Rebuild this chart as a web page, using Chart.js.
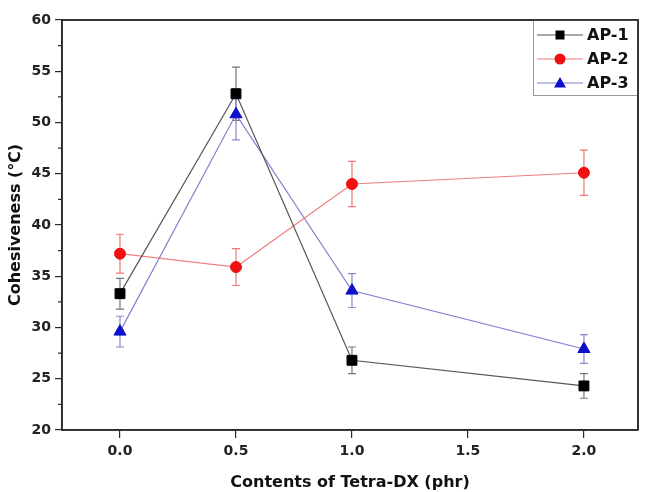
<!DOCTYPE html>
<html>
<head>
<meta charset="utf-8">
<script src="https://cdn.jsdelivr.net/npm/chart.js@4/dist/chart.umd.min.js"></script>
<style>
html,body{margin:0;padding:0;background:#fff;}
#wrap{width:649px;height:492px;position:relative;}
</style>
</head>
<body>
<div id="wrap"><canvas id="c"></canvas></div>
<script>
// ---- data ----
const xValues = [0, 0.5, 1.0, 2.0];
const seriesNames = ['AP-1', 'AP-2', 'AP-3'];
const ap1 = [33.3, 52.8, 26.8, 24.3];
const ap1Err = [1.5, 2.6, 1.3, 1.2];
const ap2 = [37.2, 35.9, 44.0, 45.1];
const ap2Err = [1.9, 1.8, 2.2, 2.2];
const ap3 = [29.6, 50.8, 33.6, 27.9];
const ap3Err = [1.5, 2.5, 1.65, 1.4];
const xTicks = [0, 0.5, 1.0, 1.5, 2.0];
const yTicks = [20, 25, 30, 35, 40, 45, 50, 55, 60];
const xTitle = 'Contents of Tetra-DX (phr)';
const yTitle = 'Cohesiveness (\u2103)';

const FONT = "'DejaVu Sans', 'Liberation Sans', Arial, sans-serif";
const AXIS = '#2a2a2a';

function pts(vals){ return xValues.map((x,i)=>({x:x,y:vals[i]})); }

const styles = [
  {line:'#555555', fill:'#000000', bar:'#777777', shape:'rect', r:7},
  {line:'#ee8080', fill:'#ee1111', bar:'#ee7777', shape:'circle', r:5.5},
  {line:'#8080d0', fill:'#1010cc', bar:'#8888cc', shape:'triangle', r:7}
];
const errs = [ap1Err, ap2Err, ap3Err];
const vals = [ap1, ap2, ap3];

const datasets = vals.map((v,k)=>({
  label: seriesNames[k],
  data: pts(v),
  borderColor: styles[k].line,
  borderWidth: 1.2,
  backgroundColor: styles[k].fill,
  pointBackgroundColor: styles[k].fill,
  pointBorderColor: styles[k].fill,
  pointBorderWidth: 1,
  pointStyle: styles[k].shape,
  pointRadius: styles[k].r,
  tension: 0,
  errors: errs[k],
  barColor: styles[k].bar
}));

const errorBars = {
  id:'errorBars',
  beforeDatasetsDraw(chart){
    const ctx = chart.ctx, ys = chart.scales.y;
    chart.data.datasets.forEach((ds,k)=>{
      const meta = chart.getDatasetMeta(k);
      ctx.save();
      ctx.strokeStyle = ds.barColor;
      ctx.lineWidth = 1.2;
      meta.data.forEach((p,i)=>{
        const v = ds.data[i].y, e = ds.errors[i];
        const t = ys.getPixelForValue(v+e), b = ys.getPixelForValue(v-e);
        ctx.beginPath();
        ctx.moveTo(p.x, t); ctx.lineTo(p.x, b);
        ctx.moveTo(p.x-4, t); ctx.lineTo(p.x+4, t);
        ctx.moveTo(p.x-4, b); ctx.lineTo(p.x+4, b);
        ctx.stroke();
      });
      ctx.restore();
    });
  }
};

const frame = {
  id:'frame',
  afterDraw(chart){
    const ctx = chart.ctx, a = chart.chartArea, ys = chart.scales.y;
    ctx.save();
    ctx.strokeStyle = AXIS;
    ctx.lineWidth = 1.6;
    ctx.strokeRect(a.left, a.top, a.right-a.left, a.bottom-a.top);
    // minor ticks on y
    ctx.lineWidth = 1.2;
    for(let i=0;i<yTicks.length-1;i++){
      const yp = ys.getPixelForValue((yTicks[i]+yTicks[i+1])/2);
      ctx.beginPath(); ctx.moveTo(a.left-4, yp); ctx.lineTo(a.left, yp); ctx.stroke();
    }
    // legend
    const lx = 533, ly = a.top, lw = a.right - 533, lh = 76;
    ctx.fillStyle = '#fff';
    ctx.fillRect(lx, ly, lw, lh);
    ctx.strokeStyle = '#999';
    ctx.lineWidth = 1;
    ctx.strokeRect(lx+0.5, ly+0.5, lw-1, lh-1);
    ctx.strokeStyle = AXIS; ctx.lineWidth = 1.6;
    ctx.beginPath(); ctx.moveTo(a.left, a.top); ctx.lineTo(a.right, a.top); ctx.lineTo(a.right, a.bottom); ctx.stroke();
    chart.data.datasets.forEach((ds,k)=>{
      const yy = ly + 15 + k*24;
      ctx.strokeStyle = ds.borderColor; ctx.lineWidth = 1.2;
      ctx.beginPath(); ctx.moveTo(lx+4, yy); ctx.lineTo(lx+50, yy); ctx.stroke();
      const cx = lx+27;
      ctx.fillStyle = ds.pointBackgroundColor;
      ctx.beginPath();
      if(ds.pointStyle==='rect'){ ctx.rect(cx-4.5, yy-4.5, 9, 9); }
      else if(ds.pointStyle==='circle'){ ctx.arc(cx, yy, 5.5, 0, Math.PI*2); }
      else { ctx.moveTo(cx, yy-6); ctx.lineTo(cx+6, yy+4.5); ctx.lineTo(cx-6, yy+4.5); ctx.closePath(); }
      ctx.fill();
      ctx.fillStyle = '#111';
      ctx.font = 'bold 16px ' + FONT;
      ctx.textBaseline = 'middle';
      ctx.textAlign = 'left';
      ctx.fillText(ds.label, lx+54, yy+1);
    });
    ctx.restore();
  }
};

new Chart(document.getElementById('c'), {
  type:'line',
  data:{datasets:datasets},
  options:{
    responsive:true,
    maintainAspectRatio:false,
    animation:false,
    layout:{padding:{left:0,right:11,top:20,bottom:0}},
    plugins:{legend:{display:false}, tooltip:{enabled:false}},
    scales:{
      x:{
        type:'linear', min:-0.25, max:2.233,
        afterBuildTicks(s){ s.ticks = xTicks.map(v=>({value:v})); },
        afterFit(s){ s.height = 62; },
        grid:{drawOnChartArea:false, drawTicks:true, tickLength:8, color:AXIS, lineWidth:1.2},
        border:{display:true, color:AXIS, width:1.6},
        ticks:{color:'#222', padding:5, maxRotation:0, font:{family:FONT, size:14, weight:'bold'},
          callback:(v)=>Number(v).toFixed(1)},
        title:{display:true, text:xTitle, color:'#111', padding:{top:2,bottom:0}, font:{family:FONT, size:16, weight:'bold'}}
      },
      y:{
        min:20, max:60,
        afterBuildTicks(s){ s.ticks = yTicks.map(v=>({value:v})); },
        afterFit(s){ s.width = 62; },
        grid:{drawOnChartArea:false, drawTicks:true, tickLength:7, color:AXIS, lineWidth:1.2},
        border:{display:true, color:AXIS, width:1.6},
        ticks:{color:'#222', padding:4, font:{family:FONT, size:14, weight:'bold'}},
        title:{display:true, text:yTitle, color:'#111', padding:{top:6,bottom:0}, font:{family:FONT, size:16, weight:'bold'}}
      }
    }
  },
  plugins:[errorBars, frame]
});
</script>
</body>
</html>
